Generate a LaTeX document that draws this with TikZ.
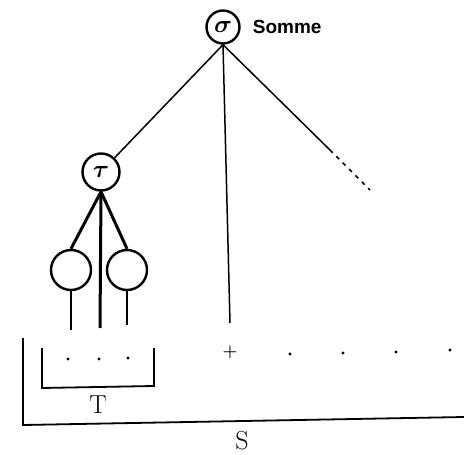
\documentclass[tikz,border=0pt]{standalone}
\usepackage{amsmath}
\usepackage{fontspec}
\newfontfamily\tagfont{Liberation Sans}
\usetikzlibrary{positioning}

\tikzset{
  vertex/.style={draw, circle, line width=2.4pt, inner sep=0pt},
  edge/.style={line width=1.5pt},
  branch/.style={line width=3pt},
  rim/.style={line width=1.8pt},
  pt/.style={circle, fill, inner sep=0pt, minimum size=3.4pt}
}

\begin{document}
\begin{tikzpicture}[x=1pt, y=-1pt, every node/.style={inner sep=0pt}]
    \useasboundingbox (0,0) rectangle (464,455);
    % tree
    \node[vertex, minimum size=33pt, font=\fontsize{24}{24}\selectfont] (sigma) at (223,27) {$\boldsymbol{\sigma}$};
    \node[right=12pt of sigma, font=\tagfont\bfseries\fontsize{19}{19}\selectfont] (somme) {Somme};
    \node[vertex, minimum size=37pt, font=\fontsize{24}{24}\selectfont] (tau) at (101,172) {$\boldsymbol{\tau}$};
    \node[vertex, minimum size=40pt] (leafa) at (71,270) {};
    \node[vertex, minimum size=40pt] (leafb) at (127,270) {};
    \coordinate (midend) at (230,323);
    \coordinate (solidend) at (330,150);
    \coordinate (dashend) at (370,190);
    \coordinate (tauend) at (100,328);
    \coordinate (leafaend) at (71,330);
    \coordinate (leafbend) at (127,325);
    \draw[edge] (sigma.south) -- (tau);
    \draw[edge] (sigma.south) -- (midend);
    \draw[edge] (sigma.south) -- (solidend);
    \draw[edge, dash pattern=on 4pt off 5pt] (solidend) -- (dashend);
    \draw[branch] (tau.south) -- (leafa.north);
    \draw[branch] (tau.south) -- (leafb.north);
    \draw[branch] (tau.south) -- (tauend);
    \draw[edge] (leafa) -- (leafaend);
    \draw[edge] (leafb) -- (leafbend);
    % brackets
    \draw[rim] (42,348) -- (42,388) -- (154,386) -- (154,348);
    \draw[rim] (23,338) -- (23,425) -- (464,417);
    \node[pt] (ta) at (68,359) {};
    \node[pt] (tb) at (99,359) {};
    \node[pt] (tc) at (128,358) {};
    \node[font=\bfseries\fontsize{17}{17}\selectfont] (plus) at (230,352) {+};
    \node[pt] (sa) at (290,354) {};
    \node[pt] (sb) at (343,353) {};
    \node[pt] (sc) at (396,352) {};
    \node[pt] (sd) at (450,350) {};
    \node[font=\fontsize{26}{26}\selectfont] (tlabel) at (98,405) {T};
    \node[font=\fontsize{26}{26}\selectfont, anchor=base] (slabel) at (242,449) {S};
  \end{tikzpicture}
\end{document}
